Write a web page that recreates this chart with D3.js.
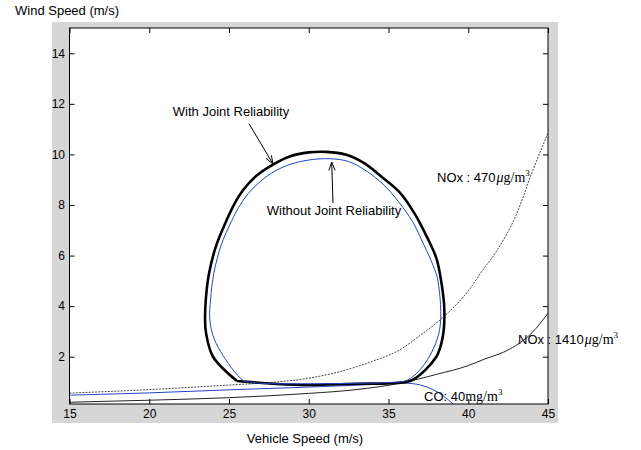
<!DOCTYPE html>
<html>
<head>
<meta charset="utf-8">
<script src="https://cdn.jsdelivr.net/npm/d3@7"></script>
<style>
  body { margin: 0; background: #fff; }
  text { font-family: "Liberation Sans", Arial, sans-serif; }
</style>
</head>
<body>
<svg id="chart" width="641" height="450"></svg>
<script>
// curve data (vehicle speed, wind speed)
var withX = [25.5, 24.0, 23.56, 23.5, 23.55, 23.75, 24.2, 24.85, 25.3, 25.9, 26.7, 27.76, 28.8, 30.0, 31.1, 32.3, 33.5, 34.6, 35.7, 36.6, 37.4, 38.0, 38.3, 38.5, 38.4, 38.0, 36.5, 35.5, 33.0, 30.0, 28.0, 27.1, 25.5];
var withY = [1.04, 2.0, 2.94, 3.45, 4.3, 5.3, 6.4, 7.4, 8.0, 8.6, 9.15, 9.6, 9.92, 10.08, 10.1, 10.0, 9.65, 9.1, 8.5, 7.7, 6.75, 5.9, 5.0, 3.9, 2.78, 2.0, 1.08, 0.96, 0.93, 0.88, 0.92, 0.96, 1.04];

var withoutX = [25.9, 25.25, 24.1, 23.8, 23.85, 24.05, 24.5, 25.15, 25.6, 26.2, 27.0, 27.9, 28.9, 30.0, 31.3, 32.5, 33.6, 34.7, 35.6, 36.5, 37.2, 37.8, 38.1, 38.2, 37.3, 36.2, 35.0, 33.0, 30.0, 27.0, 25.9];
var withoutY = [1.04, 1.48, 2.66, 3.45, 4.3, 5.3, 6.4, 7.35, 7.9, 8.45, 8.95, 9.35, 9.62, 9.78, 9.83, 9.72, 9.35, 8.8, 8.15, 7.35, 6.45, 5.6, 5.0, 3.05, 1.75, 1.08, 0.98, 0.95, 0.93, 0.95, 1.04];

var nox470X = [15, 20, 25, 28, 30, 32, 34, 35.7, 37, 38.7, 40, 40.9, 41.8, 43, 44.05, 45];
var nox470Y = [0.56, 0.7, 0.88, 1.0, 1.15, 1.42, 1.82, 2.27, 2.85, 3.72, 4.6, 5.42, 6.2, 7.6, 9.37, 10.85];

var nox1410X = [15, 20, 25, 30, 33, 35.7, 38, 40, 41, 42.6, 44, 45];
var nox1410Y = [0.2, 0.28, 0.38, 0.55, 0.7, 0.95, 1.3, 1.65, 1.9, 2.3, 2.95, 3.72];

var coX = [15, 20, 25, 30, 34, 36, 37, 37.8, 38.5, 39.1];
var coY = [0.48, 0.57, 0.69, 0.8, 0.9, 0.96, 0.88, 0.7, 0.42, 0.1];

var xTicks = [15, 20, 25, 30, 35, 40, 45];
var yTicks = [2, 4, 6, 8, 10, 12, 14];

var svg = d3.select("#chart");

var pLeft = 69.5, pRight = 548, pTop = 28, pBottom = 404;

var x = d3.scaleLinear().domain([15, 45]).range([pLeft, pRight]);
var y = d3.scaleLinear().domain([0.13, 15]).range([pBottom, pTop]);

// grey figure background and white axes box
svg.append("rect").attr("x", 52).attr("y", 22).attr("width", 506).attr("height", 401).attr("fill", "#d6d6d6");
svg.append("rect").attr("x", pLeft).attr("y", pTop).attr("width", pRight - pLeft).attr("height", pBottom - pTop).attr("fill", "#fff");

svg.append("defs").append("clipPath").attr("id", "clip")
    .append("rect").attr("x", pLeft).attr("y", pTop).attr("width", pRight - pLeft).attr("height", pBottom - pTop);

var plot = svg.append("g").attr("clip-path", "url(#clip)");

function pts(xs, ys) { return xs.map(function(d, i) { return [d, ys[i]]; }); }
var round = d3.line().curve(d3.curveCatmullRom.alpha(0.5)).x(function(d) { return x(d[0]); }).y(function(d) { return y(d[1]); });
var smooth = d3.line().curve(d3.curveMonotoneX).x(function(d) { return x(d[0]); }).y(function(d) { return y(d[1]); });

plot.append("path").attr("d", smooth(pts(nox470X, nox470Y)))
    .attr("fill", "none").attr("stroke", "#333").attr("stroke-width", 0.9).attr("stroke-dasharray", "2,1.2");
plot.append("path").attr("d", smooth(pts(nox1410X, nox1410Y)))
    .attr("fill", "none").attr("stroke", "#222").attr("stroke-width", 1);
plot.append("path").attr("d", round(pts(coX, coY)))
    .attr("fill", "none").attr("stroke", "#2443c9").attr("stroke-width", 1);
plot.append("path").attr("d", round(pts(withX, withY)))
    .attr("fill", "none").attr("stroke", "#000").attr("stroke-width", 2.6).attr("stroke-linejoin", "round");
plot.append("path").attr("d", round(pts(withoutX, withoutY)))
    .attr("fill", "none").attr("stroke", "#2443c9").attr("stroke-width", 1);

// axes (ticks inward on all sides, matlab style)
var tk = 5;
var ax = svg.append("g").attr("transform", "translate(0," + pBottom + ")")
    .call(d3.axisBottom(x).tickValues(xTicks).tickSize(-tk).tickPadding(5));
var axT = svg.append("g").attr("transform", "translate(0," + pTop + ")")
    .call(d3.axisTop(x).tickValues(xTicks).tickSize(-tk).tickFormat(""));
var ay = svg.append("g").attr("transform", "translate(" + pLeft + ",0)")
    .call(d3.axisLeft(y).tickValues(yTicks).tickSize(-tk).tickPadding(4.5));
var ayR = svg.append("g").attr("transform", "translate(" + pRight + ",0)")
    .call(d3.axisRight(y).tickValues(yTicks).tickSize(-tk).tickFormat(""));
[ax, axT, ay, ayR].forEach(function(g) {
    g.select(".domain").remove();
    g.selectAll("line").attr("stroke", "#000");
    g.selectAll("text").attr("font-size", 12).attr("fill", "#000")
        .style("font-family", "Liberation Sans, Arial, sans-serif");
});
svg.append("rect").attr("x", pLeft).attr("y", pTop).attr("width", pRight - pLeft).attr("height", pBottom - pTop)
    .attr("fill", "none").attr("stroke", "#000").attr("stroke-width", 1);

// axis titles
svg.append("text").attr("x", 15).attr("y", 15).attr("font-size", 13).text("Wind Speed (m/s)");
svg.append("text").attr("x", 305).attr("y", 443).attr("font-size", 13).attr("text-anchor", "middle").text("Vehicle Speed (m/s)");

// arrows
function arrow(x0, y0, x1, y1) {
    var X0 = x(x0), Y0 = y(y0), X1 = x(x1), Y1 = y(y1);
    var a = Math.atan2(Y1 - Y0, X1 - X0), h = 9, w = 0.35;
    svg.append("line").attr("x1", X0).attr("y1", Y0).attr("x2", X1).attr("y2", Y1).attr("stroke", "#000").attr("stroke-width", 1);
    svg.append("path")
        .attr("d", "M" + (X1 - h * Math.cos(a - w)) + "," + (Y1 - h * Math.sin(a - w)) + "L" + X1 + "," + Y1 +
                   "L" + (X1 - h * Math.cos(a + w)) + "," + (Y1 - h * Math.sin(a + w)))
        .attr("fill", "none").attr("stroke", "#000").attr("stroke-width", 1);
}
arrow(26.25, 11.22, 27.76, 9.62);
arrow(31.52, 8.07, 31.44, 9.7);

// annotations
svg.append("text").attr("x", 231).attr("y", 116).attr("font-size", 13).attr("text-anchor", "middle").text("With Joint Reliability");
svg.append("text").attr("x", 334).attr("y", 215).attr("font-size", 13).attr("text-anchor", "middle").text("Without Joint Reliability");

function concLabel(px, py, prefix, val, unitA, unitB) {
    var t = svg.append("text").attr("x", px).attr("y", py).attr("font-size", 13);
    t.append("tspan").text(prefix);
    t.append("tspan").text(val);
    var serif = "Liberation Serif, Times New Roman, serif";
    t.append("tspan").attr("dx", 1).style("font-family", serif).style("font-style", "italic").attr("font-size", 14).text(unitA);
    t.append("tspan").style("font-family", serif).attr("font-size", 14).text(unitB);
    t.append("tspan").attr("dy", -6).style("font-family", serif).attr("font-size", 9).text("3");
}
concLabel(437, 182, "NOx : ", "470", "\u03bc", "g/m");
concLabel(518, 344, "NOx : ", "1410", "\u03bc", "g/m");
concLabel(424, 401, "CO: ", "40", "", "mg/m");
</script>
</body>
</html>
